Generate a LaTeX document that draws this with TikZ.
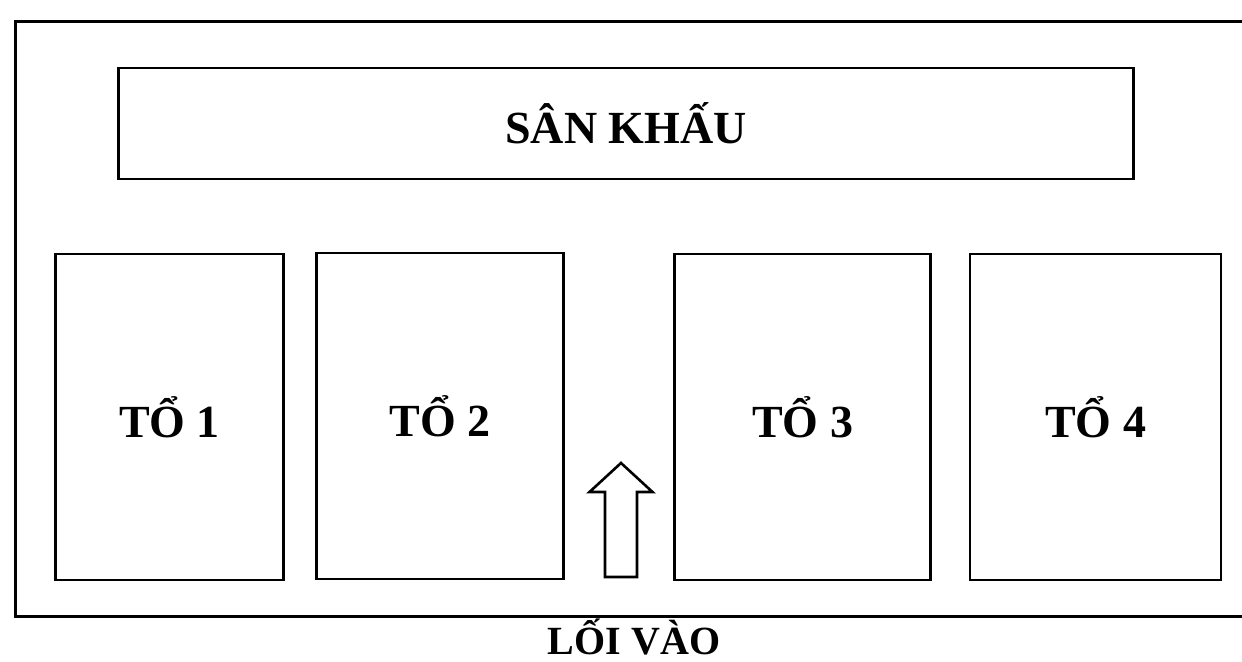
\documentclass[tikz,border=0pt]{standalone}
\usepackage{fontspec}
\setmainfont{Liberation Serif}
\usepackage{tikz}
\usetikzlibrary{positioning,calc}

\begin{document}
\begin{tikzpicture}[
    x=0.5pt, y=-0.5pt,
    line/.style={draw, line width=1.3pt},
    stage/.style={line, minimum width=507.5pt, minimum height=55.5pt, align=center, font=\fontsize{23}{28}\selectfont\bfseries},
    group/.style={line, minimum height=163pt, align=center, font=\fontsize{23}{28}\selectfont\bfseries}
]
\useasboundingbox (0,0) rectangle (1242,662);
\clip (0,0) rectangle (1242,662);

% hall frame (right side runs off the page)
\node[line, anchor=north west, minimum width=630pt, minimum height=297.5pt] (hall) at (14,20) {};

\node[stage] (stage) at (626,123.5) {SÂN KHẤU};

\node[group, minimum width=114pt] (to1) at (169.5,417) {TỔ 1};
\node[group, minimum width=123.5pt] (to2) at (440,416) {TỔ 2};
\node[group, minimum width=128pt] (to3) at (802.7,417) {TỔ 3};
\node[group, minimum width=125.5pt] (to4) at (1095.5,417) {TỔ 4};

% entrance arrow
\coordinate (door) at (621,577);
\draw[line, line join=miter] ($(door)+(-16,0)$) -- ($(door)+(-16,-85)$) -- ($(door)+(-31.5,-85)$)
    -- ($(door)+(0,-114)$) -- ($(door)+(31.5,-85)$) -- ($(door)+(16,-85)$) -- ($(door)+(16,0)$) -- cycle;

\node[anchor=base, font=\fontsize{20}{24}\selectfont\bfseries] (entry) at (634,654) {LỐI VÀO};
\end{tikzpicture}
\end{document}
